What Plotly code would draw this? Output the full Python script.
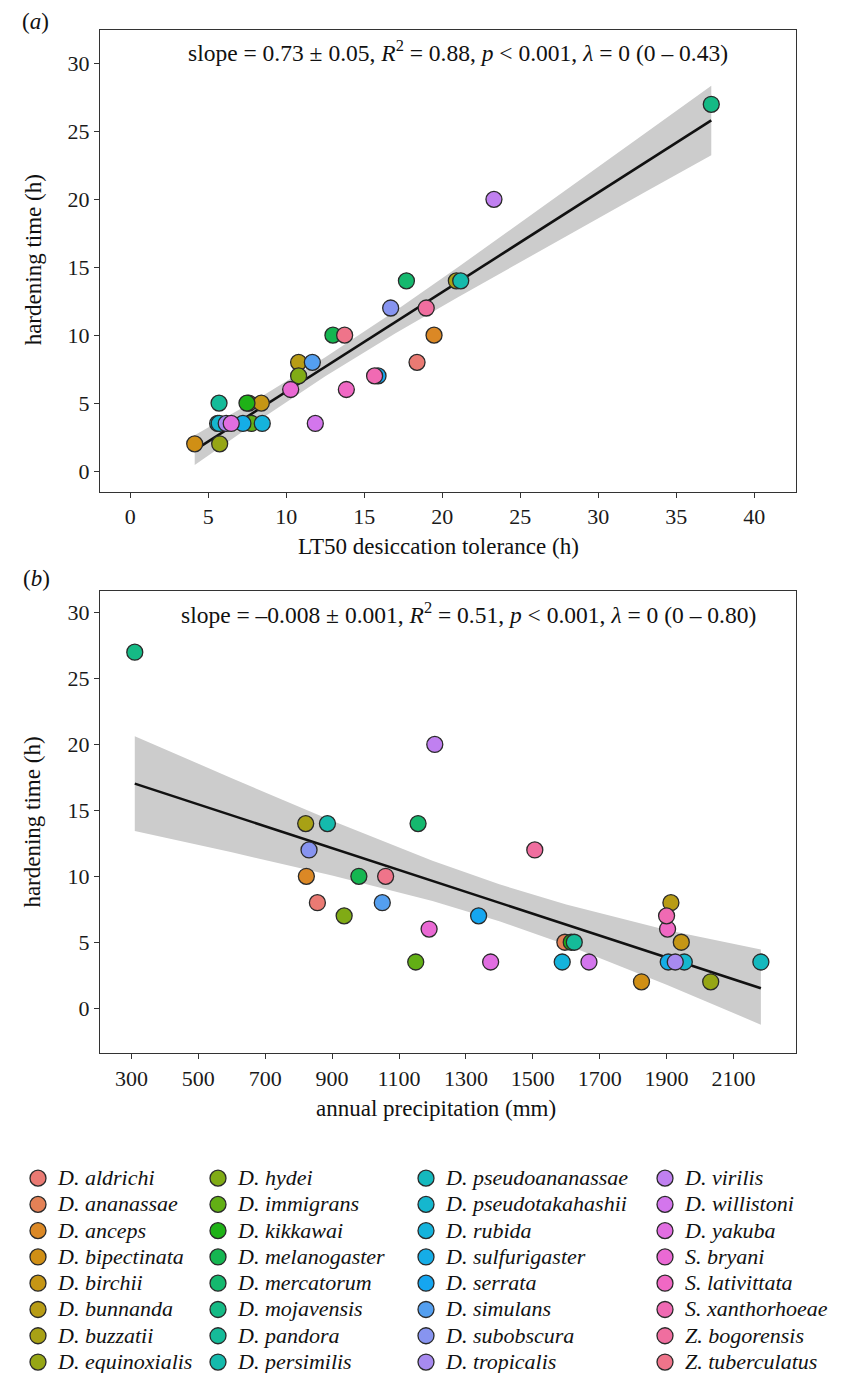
import numpy as np
import plotly.graph_objects as go

# ---------------- data ----------------
species = [
    "D. aldrichi", "D. ananassae", "D. anceps", "D. bipectinata", "D. birchii",
    "D. bunnanda", "D. buzzatii", "D. equinoxialis", "D. hydei", "D. immigrans",
    "D. kikkawai", "D. melanogaster", "D. mercatorum", "D. mojavensis", "D. pandora",
    "D. persimilis", "D. pseudoananassae", "D. pseudotakahashii", "D. rubida",
    "D. sulfurigaster", "D. serrata", "D. simulans", "D. subobscura", "D. tropicalis",
    "D. virilis", "D. willistoni", "D. yakuba", "S. bryani", "S. lativittata",
    "S. xanthorhoeae", "Z. bogorensis", "Z. tuberculatus",
]
lt50 = [18.38, 7.6, 19.47, 4.13, 8.4, 10.79, 20.9, 5.73, 10.79, 7.76,
        7.48, 12.99, 17.7, 37.24, 5.69, 21.18, 5.6, 5.7, 8.46, 7.22,
        15.88, 11.67, 16.69, 6.15, 23.31, 11.86, 6.47, 10.28, 13.85, 15.66,
        18.97, 13.74]
precip = [856, 1596, 823, 1825, 1944, 1913, 821, 2032, 936, 1150,
          1615, 980, 1157, 310, 1624, 886, 2182, 1953, 1588, 1905,
          1338, 1050, 831, 1926, 1207, 1668, 1374, 1190, 1903, 1900,
          1506, 1060]
hardening = [8, 5, 10, 2, 5, 8, 14, 2, 7, 3.5,
             5, 10, 14, 27, 5, 14, 3.5, 3.5, 3.5, 3.5,
             7, 8, 12, 3.5, 20, 3.5, 3.5, 6, 6, 7,
             12, 10]

# fitted lines and confidence bands
fit_a_x = [4.13, 37.24]
fit_a_y = [1.54, 25.81]
band_a_x = [4.13, 8, 12.5, 17, 21, 25, 29, 33, 37.24]
band_a_lo = [0.45, 3.54, 6.97, 10.14, 12.80, 15.41, 17.98, 20.54, 23.25]
band_a_hi = [2.63, 5.20, 8.37, 11.80, 15.00, 18.27, 21.56, 24.86, 28.37]

fit_b_x = [310, 2182]
fit_b_y = [17.03, 1.51]
band_b_x = [310, 600, 900, 1200, 1400, 1600, 1900, 2182]
band_b_lo = [13.43, 11.82, 10.07, 8.12, 6.59, 4.81, 1.78, -1.25]
band_b_hi = [20.63, 17.44, 14.21, 11.18, 9.39, 7.87, 5.92, 4.45]

xticks_a = [0, 5, 10, 15, 20, 25, 30, 35, 40]
xticks_b = [300, 500, 700, 900, 1100, 1300, 1500, 1700, 1900, 2100]
yticks = [0, 5, 10, 15, 20, 25, 30]

label_a = ("slope = 0.73 ± 0.05, <i>R</i><sup>2</sup> = 0.88, <i>p</i> &lt; 0.001, "
           "<i>λ</i> = 0 (0 – 0.43)")
label_b = ("slope = –0.008 ± 0.001, <i>R</i><sup>2</sup> = 0.51, <i>p</i> &lt; 0.001, "
           "<i>λ</i> = 0 (0 – 0.80)")


# ---------------- colours: ggplot2 default hue palette ----------------
def hue_pal(n, l=65.0, c=100.0):
    out = []
    Xn, Yn, Zn = 95.047, 100.0, 108.883
    un = 4 * Xn / (Xn + 15 * Yn + 3 * Zn)
    vn = 9 * Yn / (Xn + 15 * Yn + 3 * Zn)
    for i in range(n):
        h = np.deg2rad(15 + 360.0 * i / n)
        u, v = c * np.cos(h), c * np.sin(h)
        Y = Yn * ((l + 16) / 116) ** 3
        up = u / (13 * l) + un
        vp = v / (13 * l) + vn
        X = Y * 9 * up / (4 * vp)
        Z = Y * (12 - 3 * up - 20 * vp) / (4 * vp)
        X, Y, Z = X / 100, Y / 100, Z / 100
        r = 3.2404542 * X - 1.5371385 * Y - 0.4985314 * Z
        g = -0.9692660 * X + 1.8760108 * Y + 0.0415560 * Z
        b = 0.0556434 * X - 0.2040259 * Y + 1.0572252 * Z
        rgb = []
        for ch in (r, g, b):
            ch = 12.92 * ch if ch <= 0.0031308 else 1.055 * ch ** (1 / 2.4) - 0.055
            rgb.append(int(round(min(max(ch, 0), 1) * 255)))
        out.append(rgb)
    return out


cols = hue_pal(len(species))
# slightly muted, as in the printed figure
fills = ["rgb(%d,%d,%d)" % tuple(int(round(0.86 * v + 0.14 * 150)) for v in cc) for cc in cols]

W, H = 845, 1373
def px(x):
    return x / W
def py(y):
    return 1 - y / H

FONT = "Liberation Serif"
fig = go.Figure()

# bands + lines
fig.add_trace(go.Scatter(x=band_a_x + band_a_x[::-1], y=band_a_hi + band_a_lo[::-1],
                         fill="toself", fillcolor="#CCCCCC", line=dict(width=0),
                         mode="lines", showlegend=False, hoverinfo="skip",
                         xaxis="x", yaxis="y"))
fig.add_trace(go.Scatter(x=fit_a_x, y=fit_a_y, mode="lines",
                         line=dict(color="#111111", width=2.6), showlegend=False,
                         xaxis="x", yaxis="y"))
fig.add_trace(go.Scatter(x=band_b_x + band_b_x[::-1], y=band_b_hi + band_b_lo[::-1],
                         fill="toself", fillcolor="#CCCCCC", line=dict(width=0),
                         mode="lines", showlegend=False, hoverinfo="skip",
                         xaxis="x2", yaxis="y2"))
fig.add_trace(go.Scatter(x=fit_b_x, y=fit_b_y, mode="lines",
                         line=dict(color="#111111", width=2.6), showlegend=False,
                         xaxis="x2", yaxis="y2"))

legend_ids = ["legend", "legend2", "legend3", "legend4"]
for i, sp in enumerate(species):
    mk = dict(size=16, color=fills[i], line=dict(color="#2a2a2a", width=1.3))
    fig.add_trace(go.Scatter(x=[lt50[i]], y=[hardening[i]], mode="markers", marker=mk,
                             name='<span style="font-size:22px"><i>%s</i></span>' % sp,
                             legendgroup=sp, legend=legend_ids[i // 8],
                             xaxis="x", yaxis="y"))
    fig.add_trace(go.Scatter(x=[precip[i]], y=[hardening[i]], mode="markers", marker=mk,
                             name=sp, legendgroup=sp, showlegend=False,
                             xaxis="x2", yaxis="y2"))

axis_common = dict(showgrid=False, zeroline=False, showline=True, mirror=True,
                   linecolor="#333333", linewidth=1.3, ticks="outside", ticklen=5,
                   tickwidth=1.1, tickcolor="#333333",
                   tickfont=dict(family=FONT, size=22, color="#1a1a1a"))

layout = dict(
    width=W, height=H, margin=dict(l=0, r=0, t=0, b=0),
    paper_bgcolor="white", plot_bgcolor="white", showlegend=True,
    font=dict(family=FONT),
    xaxis=dict(domain=[px(92), px(788)], range=[-1.94, 42.67], anchor="y",
               tickvals=xticks_a, **axis_common),
    yaxis=dict(domain=[py(486.7), py(22)], range=[-1.51, 32.48], anchor="x",
               tickvals=yticks, **axis_common),
    xaxis2=dict(domain=[px(92), px(788)], range=[206, 2287], anchor="y2",
                tickvals=xticks_b, **axis_common),
    yaxis2=dict(domain=[py(1052), py(587)], range=[-3.41, 31.63], anchor="x2",
                tickvals=yticks, **axis_common),
)

col_x = [37, 217, 425, 664]
for k, lid in enumerate(legend_ids):
    layout[lid] = dict(x=px(col_x[k] - 27), y=py(1160), xanchor="left", yanchor="top",
                       orientation="v", bgcolor="rgba(0,0,0,0)", borderwidth=0,
                       font=dict(family=FONT, size=17.9, color="#111111"),
                       itemsizing="trace", tracegroupgap=0)

ann = []
def text(x, y, s, size=23, angle=0):
    ann.append(dict(x=px(x), y=py(y), xref="paper", yref="paper", text=s,
                    showarrow=False, textangle=angle,
                    font=dict(family=FONT, size=size, color="#111111"),
                    xanchor="center", yanchor="middle"))

text(450, 43, label_a, size=23.5)
text(461, 609, label_b, size=23.5)
text(27, 14, "(<i>a</i>)", size=23)
text(28, 574, "(<i>b</i>)", size=23)
text(430, 542, "LT50 desiccation tolerance (h)", size=23)
text(428, 1108, "annual precipitation (mm)", size=23)
text(25, 254, "hardening time (h)", size=23, angle=-90)
text(25, 820, "hardening time (h)", size=23, angle=-90)
layout["annotations"] = ann

fig.update_layout(**layout)
fig.write_html("out.html")
